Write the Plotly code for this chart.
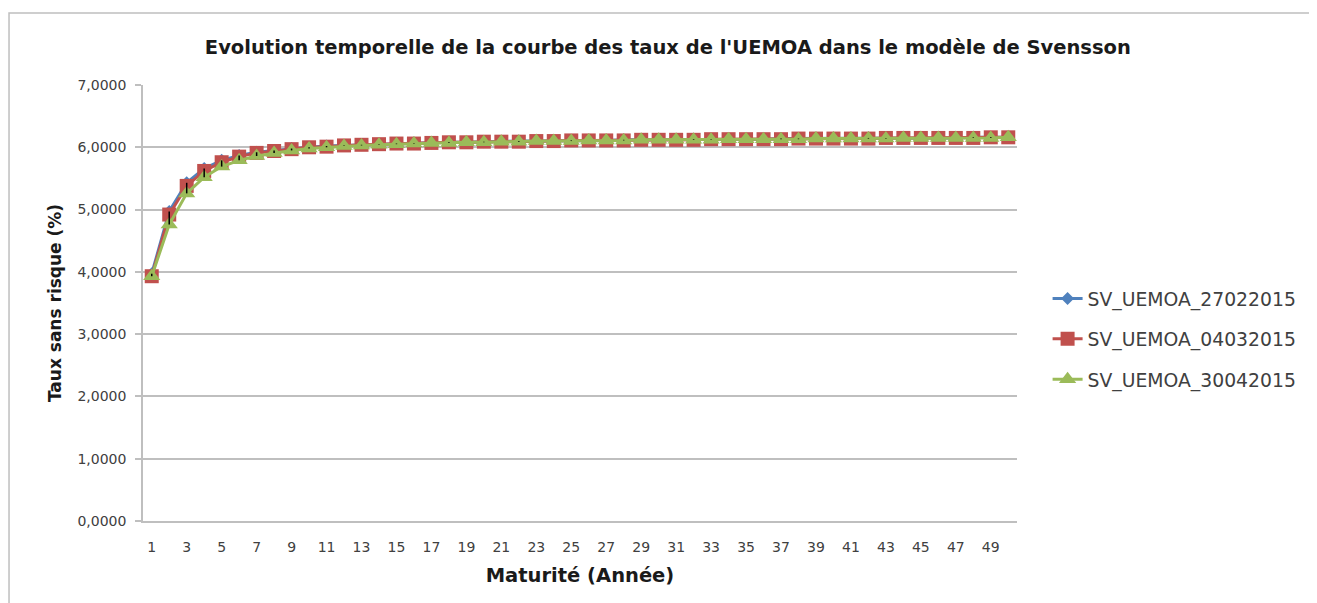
import plotly.graph_objects as go

# ---------------------------------------------------------------------------
# Data: Svensson UEMOA yield curves (maturity in years, rate in %)
# ---------------------------------------------------------------------------

maturities = list(range(1, 51))
tick_labels = [str(m) for m in range(1, 50, 2)]

sv_27022015 = [
    3.97, 4.97, 5.43, 5.66, 5.79, 5.87, 5.92, 5.95, 5.98, 6.00,
    6.02, 6.03, 6.04, 6.05, 6.06, 6.07, 6.07, 6.08, 6.08, 6.09,
    6.09, 6.10, 6.10, 6.10, 6.11, 6.11, 6.11, 6.12, 6.12, 6.12,
    6.12, 6.13, 6.13, 6.13, 6.13, 6.13, 6.14, 6.14, 6.14, 6.14,
    6.14, 6.15, 6.15, 6.15, 6.15, 6.15, 6.15, 6.16, 6.16, 6.16,
]
sv_04032015 = [
    3.93, 4.92, 5.38, 5.62, 5.76, 5.85, 5.91, 5.94, 5.97, 6.00,
    6.01, 6.03, 6.04, 6.05, 6.06, 6.06, 6.07, 6.08, 6.08, 6.09,
    6.09, 6.09, 6.10, 6.10, 6.11, 6.11, 6.11, 6.11, 6.12, 6.12,
    6.12, 6.12, 6.13, 6.13, 6.13, 6.13, 6.13, 6.14, 6.14, 6.14,
    6.14, 6.14, 6.15, 6.15, 6.15, 6.15, 6.15, 6.15, 6.16, 6.16,
]
sv_30042015 = [
    3.93, 4.76, 5.26, 5.52, 5.69, 5.79, 5.86, 5.91, 5.95, 5.98,
    6.00, 6.02, 6.03, 6.04, 6.05, 6.06, 6.07, 6.07, 6.08, 6.08,
    6.09, 6.09, 6.10, 6.10, 6.10, 6.11, 6.11, 6.11, 6.12, 6.12,
    6.12, 6.12, 6.12, 6.13, 6.13, 6.13, 6.13, 6.13, 6.14, 6.14,
    6.14, 6.14, 6.14, 6.15, 6.15, 6.15, 6.15, 6.15, 6.15, 6.16,
]

BLUE = "#4F81BD"
RED = "#C0504D"
GREEN = "#9BBB59"
GRID = "#BFBFBF"
TEXT = "#404040"
DARK = "#1a1a1a"
FONT = "DejaVu Sans"

series = [
    ("SV_UEMOA_27022015", sv_27022015, BLUE, "diamond", 10),
    ("SV_UEMOA_04032015", sv_04032015, RED, "square", 14),
    ("SV_UEMOA_30042015", sv_30042015, GREEN, "triangle-up", 15),
]

fig = go.Figure()

for name, values, color, symbol, size in series:
    fig.add_trace(go.Scatter(
        x=maturities,
        y=values,
        name=name,
        legendgroup=name,
        mode="lines+markers",
        line=dict(color=color, width=3),
        marker=dict(symbol=symbol, size=size, color=color),
    ))

# Excel-style high-low lines: min to max of the three series at each maturity
hl_x, hl_y = [], []
for m, a, b, c in zip(maturities, sv_27022015, sv_04032015, sv_30042015):
    hl_x += [m, m, None]
    hl_y += [min(a, b, c), max(a, b, c), None]
fig.add_trace(go.Scatter(
    x=hl_x, y=hl_y, mode="lines", showlegend=False, hoverinfo="skip",
    line=dict(color="black", width=1.5),
))

# light chart-area frame (only top and left edges fall inside the page)
fig.add_shape(
    type="rect", xref="paper", yref="paper",
    x0=-0.1533, x1=1.4, y0=-0.3, y1=1.165,
    line=dict(color=GRID, width=1.5), layer="below",
)

# the page body adds an 8px offset, so margins are shifted by 8px
fig.update_layout(
    width=1317,
    height=603,
    margin=dict(l=135, r=308, t=77, b=90),
    paper_bgcolor="white",
    plot_bgcolor="white",
    separators=", ",
    font=dict(family=FONT, color=TEXT, size=14),
    title=dict(
        text="<b>Evolution temporelle de la courbe des taux de l'UEMOA dans le modèle de Svensson</b>",
        x=0.501, xanchor="center", y=0.935, yanchor="middle",
        font=dict(family=FONT, size=19.5, color=DARK),
    ),
    xaxis=dict(
        range=[0.5, 50.5],
        tickmode="array",
        tickvals=list(range(1, 50, 2)),
        ticktext=tick_labels,
        showgrid=False,
        showline=True, linecolor=GRID, linewidth=1.5,
        ticks="", ticklabelstandoff=12,
        tickfont=dict(size=14, color=TEXT),
        title=dict(text="<b>Maturité (Année)</b>", standoff=15,
                   font=dict(size=19.5, color=DARK)),
        zeroline=False,
    ),
    yaxis=dict(
        range=[0, 7],
        dtick=1,
        tickformat=".4f",
        showgrid=True, gridcolor=GRID, gridwidth=1.5,
        showline=True, linecolor=GRID, linewidth=1.5,
        ticks="outside", ticklen=6, tickcolor=GRID, tickwidth=1.5,
        ticklabelstandoff=6,
        tickfont=dict(size=14, color=TEXT),
        title=dict(text="<b>Taux sans risque (%)</b>", standoff=12,
                   font=dict(size=17, color=DARK)),
        zeroline=False,
    ),
    legend=dict(
        x=1.035, xanchor="left", y=0.417, yanchor="middle",
        font=dict(size=18.8, color=TEXT),
        tracegroupgap=13,
        bgcolor="rgba(0,0,0,0)",
    ),
)

fig.write_html("out.html")
